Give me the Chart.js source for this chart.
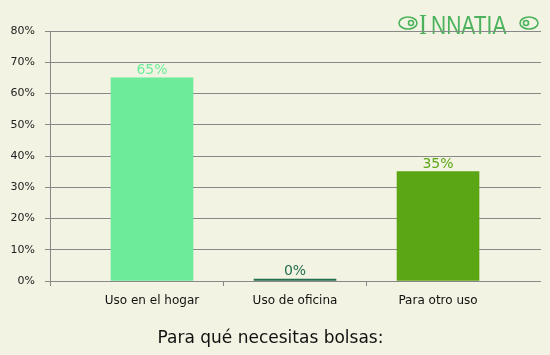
<!DOCTYPE html>
<html>
<head>
<meta charset="utf-8">
<script src="https://cdn.jsdelivr.net/npm/chart.js@4/dist/chart.umd.min.js"></script>
<style>
html,body{margin:0;padding:0;background:#f3f3e3;}
#wrap{width:550px;height:355px;position:relative;}
</style>
</head>
<body>
<div id="wrap"><canvas id="c" width="550" height="355"></canvas></div>
<script>
const categories = ["Uso en el hogar", "Uso de oficina", "Para otro uso"];
const values = [65, 0, 35];
const barColors = ["#6deb9b", "#22704e", "#5aa614"];
const labelColors = ["#6deb9b", "#22704e", "#5aa614"];
const yTicks = [0, 10, 20, 30, 40, 50, 60, 70, 80];
const xTickPositions = [0, 0.5, 1, 1.5, 2];
const titleText = "Para qué necesitas bolsas:";

const FONT = "'DejaVu Sans', Verdana, sans-serif";

const bgPlugin = {
  id: 'bg',
  beforeDraw(chart) {
    const ctx = chart.ctx;
    ctx.save();
    ctx.fillStyle = '#f3f3e3';
    ctx.fillRect(0, 0, chart.width, chart.height);
    // logo
    ctx.fillStyle = '#4cb35c';
    ctx.strokeStyle = '#4cb35c';
    ctx.textBaseline = 'alphabetic';
    ctx.save();
    ctx.translate(0, 34);
    ctx.scale(1, 1.25);
    ctx.font = "24px 'Liberation Serif', serif";
    ctx.fillText('I', 419, 0);
    ctx.font = "21px 'Liberation Sans', sans-serif";
    ctx.fillText('NNATIA', 431, 0);
    ctx.restore();
    ctx.lineWidth = 1.6;
    // left ornament
    ctx.beginPath();
    ctx.ellipse(408, 23, 9, 6, 0, 0, Math.PI * 2);
    ctx.stroke();
    ctx.beginPath();
    ctx.arc(411, 23, 2.5, 0, Math.PI * 2);
    ctx.stroke();
    // right ornament
    ctx.beginPath();
    ctx.ellipse(529, 23, 9, 6, 0, 0, Math.PI * 2);
    ctx.stroke();
    ctx.beginPath();
    ctx.arc(526, 23, 2.5, 0, Math.PI * 2);
    ctx.stroke();
    ctx.restore();
  }
};

const labelPlugin = {
  id: 'barLabels',
  afterDatasetsDraw(chart) {
    const ctx = chart.ctx;
    const meta = chart.getDatasetMeta(0);
    ctx.save();
    ctx.font = "14px " + FONT;
    ctx.textAlign = 'center';
    ctx.textBaseline = 'alphabetic';
    meta.data.forEach((el, i) => {
      ctx.fillStyle = labelColors[i];
      ctx.fillText(values[i] + '%', el.x, el.y - 4);
    });
    ctx.restore();
  }
};

new Chart(document.getElementById('c'), {
  type: 'bar',
  data: {
    datasets: [{
      data: values.map((v, i) => ({ x: i, y: v })),
      backgroundColor: barColors,
      barThickness: 82,
      minBarLength: 2,
      borderWidth: 0
    }]
  },
  options: {
    responsive: false,
    animation: false,
    events: [],
    layout: { padding: { left: 0, right: 9, top: 31, bottom: 0 } },
    plugins: {
      legend: { display: false },
      tooltip: { enabled: false },
      title: {
        display: true,
        position: 'bottom',
        text: titleText,
        color: '#111',
        font: { family: FONT, size: 17, weight: 'normal' },
        padding: { top: 0, bottom: 6 }
      }
    },
    scales: {
      x: {
        type: 'linear',
        offset: false,
        min: -0.713,
        max: 2.72,
        afterBuildTicks(s) { s.ticks = [s.min].concat(xTickPositions).map(v => ({ value: v })); },
        afterFit(s) { s.height = 47.6; },
        ticks: {
          autoSkip: false,
          maxRotation: 0,
          color: '#111',
          font: { family: FONT, size: 12 },
          padding: 8,
          callback(v) { return Number.isInteger(v) ? categories[v] : ''; }
        },
        grid: {
          drawOnChartArea: false,
          offset: false,
          tickLength: 5,
          color(ctx) { return (ctx.tick && !Number.isInteger(ctx.tick.value)) ? '#888888' : 'rgba(0,0,0,0)'; }
        },
        border: { display: false }
      },
      y: {
        min: 0,
        max: 80,
        afterBuildTicks(s) { s.ticks = yTicks.map(v => ({ value: v })); },
        afterFit(s) { s.width = 50; },
        ticks: {
          color: '#222',
          font: { family: FONT, size: 11 },
          padding: 10,
          callback(v) { return v + '%'; }
        },
        grid: {
          color: '#888888',
          lineWidth: 1,
          tickLength: 5
        },
        border: { display: true, color: '#888888', width: 1 }
      }
    }
  },
  plugins: [bgPlugin, labelPlugin]
});
</script>
</body>
</html>
